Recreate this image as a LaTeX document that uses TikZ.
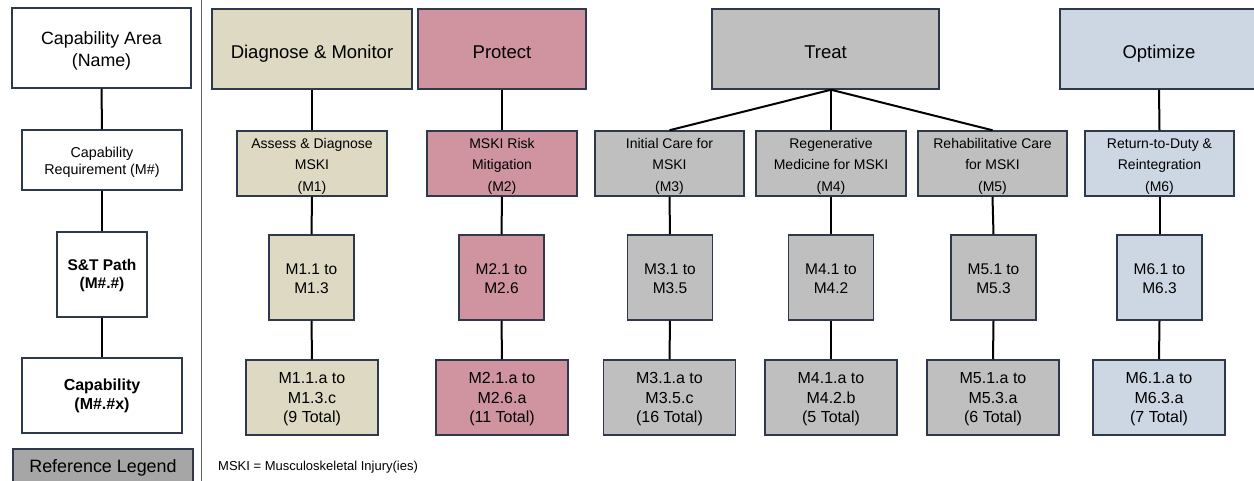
\documentclass[tikz,border=0pt]{standalone}
\usepackage{fontspec}
\setmainfont{Liberation Sans}
\definecolor{frame}{HTML}{2E3A4B}
\definecolor{tanfill}{HTML}{DDD9C3}
\definecolor{rosefill}{HTML}{CF94A0}
\definecolor{greyfill}{HTML}{BFBFBF}
\definecolor{bluefill}{HTML}{CDD7E3}
\definecolor{legendfill}{HTML}{A6A6A6}
\definecolor{rulecol}{HTML}{5C6675}
% centred lines whose baseline is that of the first line
\newcommand{\cellstack}[1]{\begin{tabular}[t]{@{}c@{}}#1\end{tabular}}
\begin{document}
\begin{tikzpicture}[x=1pt,y=-1pt,
  box/.style={draw=frame, line width=1.5pt, inner sep=0pt, text=black},
  % first baseline placed by text height / text depth
  area/.style={box, minimum height=80pt, font=\fontsize{18.5}{22}\selectfont,
    text height=18.6pt, text depth=0pt},
  req/.style={box, minimum width=150pt, minimum height=65pt, font=\fontsize{14}{21.5}\selectfont,
    text height=0pt, text depth=30pt},
  path/.style={box, minimum width=85pt, minimum height=85pt, font=\fontsize{15.5}{19}\selectfont,
    text height=0pt, text depth=6pt},
  capab/.style={box, minimum width=132pt, minimum height=75pt, font=\fontsize{16}{19.7}\selectfont,
    text height=0pt, text depth=28.4pt},
  legendbox/.style={box, fill=white},
  link/.style={draw=black, line width=2pt},
]
\useasboundingbox (0,0) rectangle (1254,481);

% divider between the legend column and the chart
\draw[rulecol, line width=1.3pt] (201.5,-2) -- (201.5,483);

% ---- legend column ----
\node[legendbox, minimum width=179pt, minimum height=80pt, font=\fontsize{17.8}{22.4}\selectfont,
  text height=0pt, text depth=7.4pt] (la) at (101.5,48) {\cellstack{Capability Area\\(Name)}};
\node[legendbox, minimum width=160pt, minimum height=60pt, font=\fontsize{14.3}{17}\selectfont,
  text height=0pt, text depth=4pt] (lr) at (102,160) {\cellstack{Capability\\Requirement (M\#)}};
\node[legendbox, minimum width=90pt, minimum height=85pt, font=\bfseries\fontsize{15.5}{18}\selectfont,
  text height=0pt, text depth=7.6pt] (ls) at (102,274.5) {\cellstack{S\&T Path\\(M\#.\#)}};
\node[legendbox, minimum width=160pt, minimum height=75pt, font=\bfseries\fontsize{16}{18.7}\selectfont,
  text height=0pt, text depth=9.6pt] (lc) at (102,395.5) {\cellstack{Capability\\(M\#.\#x)}};
\node[box, fill=legendfill, minimum width=180pt, minimum height=38pt, font=\fontsize{17.9}{20}\selectfont,
  text height=9.4pt, text depth=0pt] (legend) at (103,468) {Reference Legend};

\draw[link] (la.south) -- (lr.north);
\draw[link] (lr.south) -- (ls.north);
\draw[link] (ls.south) -- (lc.north);

% ---- capability areas ----
\node[area, fill=tanfill, minimum width=200pt] (dm) at (312,49) {Diagnose \& Monitor};
\node[area, fill=rosefill, minimum width=168pt] (pr) at (502,49) {Protect};
\node[area, fill=greyfill, minimum width=227pt] (tr) at (825.5,49) {Treat};
\node[area, fill=bluefill, minimum width=198pt, text width=194pt, align=center] (op) at (1159,49) {Optimize};

% ---- capability requirements ----
\node[req, fill=tanfill] (m1) at (312,163.5) {\cellstack{Assess \& Diagnose\\MSKI\\(M1)}};
\node[req, fill=rosefill] (m2) at (502,163.5) {\cellstack{MSKI Risk\\Mitigation\\(M2)}};
\node[req, fill=greyfill, minimum width=149pt] (m3) at (669.5,163.5) {\cellstack{Initial Care for\\MSKI\\(M3)}};
\node[req, fill=greyfill] (m4) at (831,163.5) {\cellstack{Regenerative\\Medicine for MSKI\\(M4)}};
\node[req, fill=greyfill, minimum width=149pt] (m5) at (992.5,163.5) {\cellstack{Rehabilitative Care\\for MSKI\\(M5)}};
\node[req, fill=bluefill, minimum width=149pt] (m6) at (1159.5,163.5) {\cellstack{Return-to-Duty \&\\Reintegration\\(M6)}};

% ---- S&T paths ----
\node[path, fill=tanfill] (s1) at (311.5,277.5) {\cellstack{M1.1 to\\M1.3}};
\node[path, fill=rosefill] (s2) at (501.5,277.5) {\cellstack{M2.1 to\\M2.6}};
\node[path, fill=greyfill] (s3) at (670,277.5) {\cellstack{M3.1 to\\M3.5}};
\node[path, fill=greyfill] (s4) at (831,277.5) {\cellstack{M4.1 to\\M4.2}};
\node[path, fill=greyfill] (s5) at (993.5,277.5) {\cellstack{M5.1 to\\M5.3}};
\node[path, fill=bluefill] (s6) at (1159.5,277.5) {\cellstack{M6.1 to\\M6.3}};

% ---- capabilities ----
\node[capab, fill=tanfill] (c1) at (312,397.5) {\cellstack{M1.1.a to\\M1.3.c\\(9 Total)}};
\node[capab, fill=rosefill] (c2) at (502,397.5) {\cellstack{M2.1.a to\\M2.6.a\\(11 Total)}};
\node[capab, fill=greyfill] (c3) at (669.5,397.5) {\cellstack{M3.1.a to\\M3.5.c\\(16 Total)}};
\node[capab, fill=greyfill] (c4) at (831,397.5) {\cellstack{M4.1.a to\\M4.2.b\\(5 Total)}};
\node[capab, fill=greyfill] (c5) at (993,397.5) {\cellstack{M5.1.a to\\M5.3.a\\(6 Total)}};
\node[capab, fill=bluefill] (c6) at (1159,397.5) {\cellstack{M6.1.a to\\M6.3.a\\(7 Total)}};

% ---- connectors ----
\draw[link] (dm.south) -- (m1.north);
\draw[link] (pr.south) -- (m2.north);
\draw[link] (op.south) -- (m6.north);
\coordinate (tj) at (m4.north |- tr.south);
\draw[link] (tj) -- (m3.north);
\draw[link] (tj) -- (m4.north);
\draw[link] (tj) -- (m5.north);

\foreach \i in {1,...,6} {
  \draw[link] (m\i.south) -- (s\i.north);
  \draw[link] (s\i.south) -- (c\i.north);
}

\node[anchor=west, inner sep=0pt, font=\fontsize{13}{15}\selectfont] (note) at (218,467) {MSKI = Musculoskeletal Injury(ies)};
\end{tikzpicture}
\end{document}
